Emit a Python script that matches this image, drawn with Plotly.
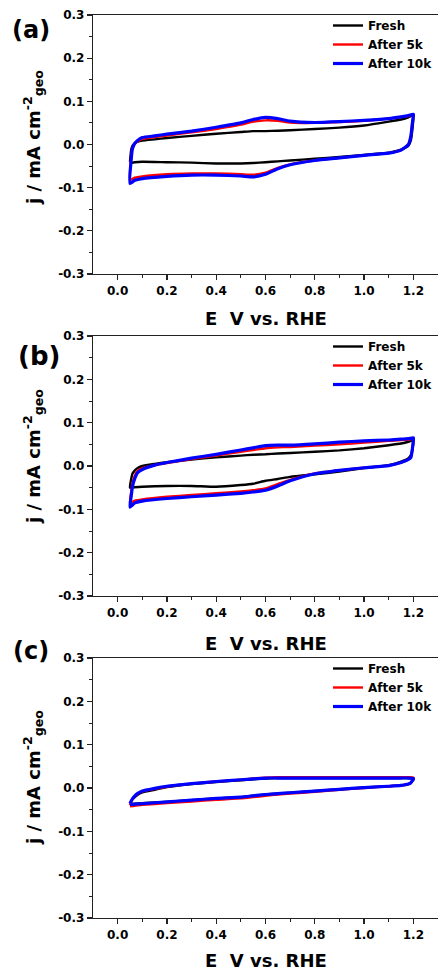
import plotly.graph_objects as go

# ---------------- data ----------------
E_fwd = [0.05, 0.055, 0.06, 0.07, 0.08, 0.1, 0.15, 0.2, 0.3, 0.4, 0.5, 0.55, 0.6, 0.65, 0.7, 0.8, 0.9, 1.0, 1.1, 1.15, 1.18, 1.2]
E_rev = [1.2, 1.195, 1.19, 1.18, 1.15, 1.1, 1.0, 0.9, 0.8, 0.7, 0.65, 0.6, 0.55, 0.5, 0.4, 0.3, 0.2, 0.1, 0.07, 0.05]

series_names = ["Fresh", "After 5k", "After 10k"]
series_colors = ["#000000", "#ff0000", "#0000ff"]

# panel (a)
a_fresh_fwd = [-0.040, -0.012, -0.003, 0.003, 0.006, 0.009, 0.012, 0.015, 0.020, 0.025, 0.029, 0.031, 0.031, 0.032, 0.033, 0.036, 0.039, 0.044, 0.053, 0.058, 0.063, 0.068]
a_fresh_rev = [0.060, 0.030, 0.010, -0.003, -0.012, -0.019, -0.024, -0.029, -0.033, -0.037, -0.039, -0.041, -0.043, -0.044, -0.044, -0.042, -0.041, -0.040, -0.041, -0.043]
a_5k_fwd = [-0.082, -0.030, -0.008, 0.002, 0.007, 0.013, 0.017, 0.021, 0.028, 0.036, 0.046, 0.053, 0.056, 0.055, 0.051, 0.050, 0.052, 0.055, 0.060, 0.064, 0.066, 0.069]
a_5k_rev = [0.066, 0.045, 0.020, 0.000, -0.013, -0.020, -0.025, -0.031, -0.037, -0.046, -0.054, -0.065, -0.070, -0.069, -0.067, -0.067, -0.069, -0.074, -0.077, -0.082]
a_10k_fwd = [-0.090, -0.035, -0.010, 0.003, 0.009, 0.016, 0.020, 0.024, 0.031, 0.040, 0.050, 0.058, 0.063, 0.060, 0.054, 0.051, 0.053, 0.056, 0.060, 0.064, 0.067, 0.070]
a_10k_rev = [0.068, 0.045, 0.020, 0.000, -0.013, -0.020, -0.025, -0.031, -0.037, -0.047, -0.056, -0.069, -0.075, -0.073, -0.071, -0.071, -0.074, -0.079, -0.083, -0.090]

# panel (b)
b_fresh_fwd = [-0.050, -0.030, -0.018, -0.010, -0.005, 0.000, 0.005, 0.009, 0.015, 0.020, 0.024, 0.026, 0.027, 0.029, 0.030, 0.033, 0.036, 0.041, 0.048, 0.052, 0.056, 0.060]
b_fresh_rev = [0.055, 0.035, 0.025, 0.018, 0.010, 0.002, -0.005, -0.013, -0.019, -0.025, -0.030, -0.034, -0.041, -0.044, -0.048, -0.046, -0.046, -0.048, -0.049, -0.050]
b_5k_fwd = [-0.085, -0.060, -0.040, -0.022, -0.012, -0.005, 0.002, 0.007, 0.016, 0.024, 0.033, 0.037, 0.041, 0.043, 0.044, 0.047, 0.050, 0.054, 0.058, 0.060, 0.061, 0.063]
b_5k_rev = [0.060, 0.035, 0.020, 0.015, 0.008, 0.001, -0.004, -0.010, -0.017, -0.032, -0.042, -0.052, -0.056, -0.059, -0.063, -0.067, -0.071, -0.077, -0.080, -0.085]
b_10k_fwd = [-0.095, -0.070, -0.048, -0.028, -0.016, -0.008, 0.002, 0.008, 0.018, 0.027, 0.037, 0.042, 0.047, 0.048, 0.048, 0.051, 0.055, 0.058, 0.060, 0.062, 0.063, 0.065]
b_10k_rev = [0.062, 0.035, 0.020, 0.015, 0.008, 0.001, -0.004, -0.010, -0.018, -0.034, -0.046, -0.056, -0.060, -0.063, -0.067, -0.071, -0.075, -0.081, -0.085, -0.095]

# panel (c)
c_fresh_fwd = [-0.036, -0.030, -0.026, -0.021, -0.016, -0.010, -0.004, 0.002, 0.009, 0.014, 0.018, 0.020, 0.022, 0.023, 0.023, 0.023, 0.023, 0.023, 0.023, 0.023, 0.023, 0.022]
c_fresh_rev = [0.020, 0.016, 0.012, 0.009, 0.006, 0.004, 0.001, -0.003, -0.007, -0.011, -0.013, -0.015, -0.018, -0.021, -0.024, -0.028, -0.032, -0.035, -0.036, -0.037]
c_5k_fwd = [-0.040, -0.032, -0.026, -0.019, -0.014, -0.008, -0.002, 0.003, 0.010, 0.015, 0.019, 0.022, 0.024, 0.025, 0.025, 0.025, 0.025, 0.025, 0.025, 0.025, 0.025, 0.024]
c_5k_rev = [0.022, 0.017, 0.012, 0.009, 0.006, 0.004, 0.000, -0.004, -0.009, -0.013, -0.015, -0.018, -0.021, -0.024, -0.027, -0.031, -0.035, -0.039, -0.041, -0.042]
c_10k_fwd = [-0.036, -0.030, -0.025, -0.018, -0.013, -0.007, -0.001, 0.004, 0.010, 0.015, 0.019, 0.021, 0.023, 0.023, 0.023, 0.023, 0.023, 0.023, 0.023, 0.023, 0.023, 0.022]
c_10k_rev = [0.020, 0.016, 0.012, 0.009, 0.006, 0.004, 0.001, -0.003, -0.007, -0.011, -0.013, -0.015, -0.018, -0.021, -0.024, -0.028, -0.032, -0.036, -0.037, -0.038]

panel_labels = ["(a)", "(b)", "(c)"]
x_title = "E\u00a0\u00a0V vs. RHE"
y_title = "j / mA cm<sup>-2</sup><sub>geo</sub>"

x_tickvals = [0.0, 0.2, 0.4, 0.6, 0.8, 1.0, 1.2]
x_ticktext = ["0.0", "0.2", "0.4", "0.6", "0.8", "1.0", "1.2"]
x_minor = [0.1, 0.3, 0.5, 0.7, 0.9, 1.1]
y_tickvals = [-0.3, -0.2, -0.1, 0.0, 0.1, 0.2, 0.3]
y_ticktext = ["-0.3", "-0.2", "-0.1", "0.0", "0.1", "0.2", "0.3"]
y_minor = [-0.25, -0.15, -0.05, 0.05, 0.15, 0.25]

panels = [
    [(a_fresh_fwd, a_fresh_rev), (a_5k_fwd, a_5k_rev), (a_10k_fwd, a_10k_rev)],
    [(b_fresh_fwd, b_fresh_rev), (b_5k_fwd, b_5k_rev), (b_10k_fwd, b_10k_rev)],
    [(c_fresh_fwd, c_fresh_rev), (c_5k_fwd, c_5k_rev), (c_10k_fwd, c_10k_rev)],
]

# ---------------- layout geometry (pixels) ----------------
W, H = 438, 973
L = 93
panel_top = [15, 336, 658]
panel_bot = [274, 596, 918]
xtitle_y = [318.5, 643, 960]
ytitle_y = [138, 457, 778]
label_pos = [(31, 30, 24), (39, 356, 26), (31, 651, 24)]
legend_top = [11, 332, 654]

def py(p):
    return 1 - p / H

FONT = "DejaVu Sans"
line_widths = [2.4, 2.4, 3.2]

fig = go.Figure()
layout = dict(
    width=W, height=H,
    margin=dict(l=L, r=0, t=0, b=0, autoexpand=False),
    paper_bgcolor="white", plot_bgcolor="white",
    font=dict(family=FONT, color="black", size=12, weight="bold"),
    annotations=[],
)

for i, curves in enumerate(panels):
    k = "" if i == 0 else str(i + 1)
    leg = "legend" + k
    for j, (fw, rv) in enumerate(curves):
        fig.add_trace(go.Scatter(
            x=E_fwd + E_rev, y=fw + rv, mode="lines",
            name=series_names[j],
            line=dict(color=series_colors[j], width=line_widths[j], shape="spline", smoothing=0.5),
            xaxis="x" + k, yaxis="y" + k, legend=leg,
        ))
    layout["xaxis" + k] = dict(
        domain=[0, 1], anchor="y" + k, range=[-0.1, 1.3], automargin=False,
        showline=True, linecolor="#222", linewidth=1.2, mirror=True,
        showgrid=False, zeroline=False,
        ticks="outside", ticklen=5, tickwidth=1.2, tickcolor="#222",
        tickmode="array", tickvals=x_tickvals, ticktext=x_ticktext,
        tickfont=dict(family=FONT, size=12, color="black", weight="bold"),
        minor=dict(tickmode="array", tickvals=x_minor, ticks="outside", ticklen=3, tickwidth=1, tickcolor="#222"),
    )
    layout["yaxis" + k] = dict(
        domain=[py(panel_bot[i]), py(panel_top[i])], anchor="x" + k, range=[-0.3, 0.3], automargin=False,
        showline=True, linecolor="#222", linewidth=1.2, mirror=False,
        showgrid=False, zeroline=False,
        ticks="outside", ticklen=5, tickwidth=1.2, tickcolor="#222",
        tickmode="array", tickvals=y_tickvals, ticktext=y_ticktext,
        tickfont=dict(family=FONT, size=12, color="black", weight="bold"),
        minor=dict(tickmode="array", tickvals=y_minor, ticks="outside", ticklen=3, tickwidth=1, tickcolor="#222"),
    )
    layout[leg] = dict(
        x=1.0, xanchor="right",
        y=py(legend_top[i]), yanchor="top",
        bgcolor="rgba(0,0,0,0)", borderwidth=0,
        font=dict(family=FONT, size=12, color="black", weight="bold"),
        tracegroupgap=0,
    )
    layout["annotations"].append(dict(
        text=x_title, xref="paper", yref="paper",
        x=0.5, y=py(xtitle_y[i]), xanchor="center", yanchor="middle",
        showarrow=False, font=dict(family=FONT, size=18, color="black", weight="bold"),
    ))
    layout["annotations"].append(dict(
        text=y_title, xref="paper", yref="paper",
        x=(33 - L) / (W - L), y=py(ytitle_y[i]), xanchor="center", yanchor="middle",
        textangle=-90, showarrow=False,
        font=dict(family=FONT, size=18, color="black", weight="bold"),
    ))
    lx, ly, ls = label_pos[i]
    layout["annotations"].append(dict(
        text=panel_labels[i], xref="paper", yref="paper",
        x=(lx - L) / (W - L), y=py(ly), xanchor="center", yanchor="middle",
        showarrow=False, font=dict(family=FONT, size=ls, color="black", weight="bold"),
    ))

fig.update_layout(**layout)
fig.write_html(
    "out.html",
    config={"displayModeBar": False, "staticPlot": True},
    post_script="document.body.style.margin='0px';document.body.style.overflow='hidden';",
)
